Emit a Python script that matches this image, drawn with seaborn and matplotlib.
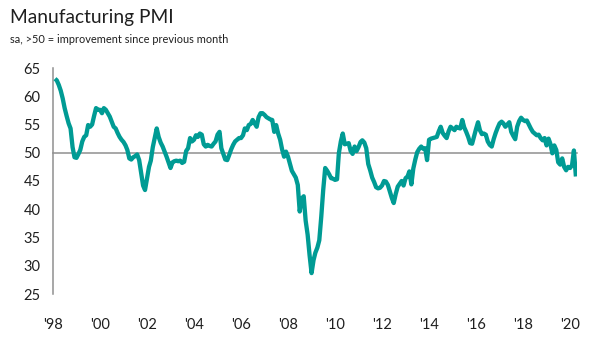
import matplotlib
matplotlib.use("Agg")
import matplotlib.pyplot as plt
import numpy as np
import pandas as pd
import seaborn as sns

# Monthly manufacturing PMI readings (seasonally adjusted), Feb 1998 onward
pmi_1998 = [63.1, 62.8, 62.0, 61.0, 59.6, 57.9, 56.5, 55.2, 54.3, 51.0, 49.2]
pmi_1999 = [49.1, 49.8, 50.5, 52.0, 52.8, 53.1, 54.9, 54.6, 55.0, 56.5, 57.9, 57.6]
pmi_2000 = [57.6, 57.0, 57.9, 57.6, 57.0, 56.4, 55.5, 54.6, 54.3, 53.5, 52.8, 52.3]
pmi_2001 = [51.9, 51.3, 50.5, 49.0, 48.8, 49.2, 49.4, 49.7, 48.7, 46.5, 44.2, 43.4]
pmi_2002 = [45.5, 47.5, 48.6, 51.0, 52.6, 54.3, 52.8, 51.8, 51.1, 50.2, 49.3, 48.3]
pmi_2003 = [47.3, 48.3, 48.5, 48.6, 48.5, 48.6, 48.2, 48.4, 50.3, 50.8, 52.6, 52.0]
pmi_2004 = [52.3, 53.1, 52.8, 53.4, 53.2, 51.5, 51.1, 51.4, 51.2, 51.1, 51.6, 52.0]
pmi_2005 = [53.2, 53.7, 50.8, 49.8, 48.8, 48.7, 49.6, 50.6, 51.4, 52.0, 52.3, 52.6]
pmi_2006 = [52.6, 53.1, 54.3, 54.0, 54.9, 55.1, 55.8, 55.2, 54.6, 56.3, 57.0, 57.0]
pmi_2007 = [56.7, 56.3, 56.1, 55.9, 55.8, 53.7, 54.9, 53.4, 52.3, 50.6, 49.3, 50.2]
pmi_2008 = [49.3, 48.0, 46.8, 46.2, 45.6, 44.3, 39.6, 41.9, 42.3, 38.0, 35.5, 31.9]
pmi_2009 = [28.7, 31.0, 32.3, 33.2, 34.5, 38.7, 43.4, 47.3, 46.8, 46.2, 45.5, 45.4]
pmi_2010 = [45.2, 45.3, 49.9, 52.0, 53.4, 51.5, 51.6, 51.7, 50.3, 49.8, 51.1, 50.3]
pmi_2011 = [51.0, 51.9, 52.2, 51.8, 50.8, 48.0, 46.9, 45.6, 44.8, 43.9, 43.7, 43.8]
pmi_2012 = [44.2, 45.0, 44.9, 44.3, 43.2, 42.0, 41.1, 42.7, 44.0, 44.5, 45.0, 44.2]
pmi_2013 = [45.5, 45.8, 46.7, 44.4, 47.2, 48.8, 50.1, 50.7, 51.1, 50.7, 50.8, 48.7]
pmi_2014 = [52.3, 52.5, 52.6, 52.7, 52.8, 53.8, 54.6, 53.5, 53.0, 52.6, 53.8, 54.6]
pmi_2015 = [54.3, 54.0, 54.6, 54.4, 54.3, 55.8, 54.5, 53.7, 52.8, 51.7, 51.6, 52.9]
pmi_2016 = [54.2, 55.4, 54.0, 53.3, 53.4, 53.2, 52.0, 51.4, 51.1, 52.4, 53.5, 54.4]
pmi_2017 = [55.2, 55.5, 55.2, 54.6, 55.0, 55.4, 53.7, 53.0, 52.4, 54.6, 55.6, 56.2]
pmi_2018 = [55.8, 55.6, 55.7, 55.0, 54.3, 53.7, 53.4, 53.1, 53.2, 52.6, 52.2, 52.6]
pmi_2019 = [51.3, 52.5, 51.6, 49.9, 51.3, 50.5, 48.3, 47.9, 49.0, 47.5, 46.9, 47.5]
pmi_2020 = [47.3, 47.8, 50.4, 45.8]

tick_years = list(range(1998, 2021, 2))
tick_labels = ["'98", "'00", "'02", "'04", "'06", "'08", "'10", "'12",
               "'14", "'16", "'18", "'20"]
y_ticks = [25, 30, 35, 40, 45, 50, 55, 60, 65]

values = (pmi_1998 + pmi_1999 + pmi_2000 + pmi_2001 + pmi_2002 + pmi_2003
          + pmi_2004 + pmi_2005 + pmi_2006 + pmi_2007 + pmi_2008 + pmi_2009
          + pmi_2010 + pmi_2011 + pmi_2012 + pmi_2013 + pmi_2014 + pmi_2015
          + pmi_2016 + pmi_2017 + pmi_2018 + pmi_2019 + pmi_2020)
df = pd.DataFrame({
    "date": pd.date_range("1998-02-01", periods=len(values), freq="MS"),
    "pmi": values,
})

sns.set_style("white")
plt.rcParams["font.family"] = ["Lato", "DejaVu Sans"]

LINE = "#009B94"
AXIS = "#8F8F8F"
TEXT = "#1F1F1F"

fig = plt.figure(figsize=(5.99, 3.46), dpi=100)
ax = fig.add_axes([53 / 599, 1 - 294 / 346, 524 / 599, 226 / 346])

sns.lineplot(data=df, x="date", y="pmi", ax=ax, color=LINE, linewidth=3.1,
             solid_capstyle="butt", zorder=3)

ax.set_ylim(25, 65)
ax.set_xlim(pd.Timestamp("1998-01-01"), pd.Timestamp("2020-04-18"))
ax.set_xlabel("")
ax.set_ylabel("")

# y axis: left spine with outward ticks
ax.set_yticks(y_ticks)
ax.tick_params(axis="y", direction="out", length=5, width=1.1, color=AXIS,
               labelsize=10.5, labelcolor=TEXT, pad=4)
ax.spines["left"].set_color(AXIS)
ax.spines["left"].set_linewidth(1.1)
for s in ("top", "right"):
    ax.spines[s].set_visible(False)

# x axis drawn as the 50 line, with short ticks hanging below it
ax.spines["bottom"].set_position(("data", 50))
ax.spines["bottom"].set_color(AXIS)
ax.spines["bottom"].set_linewidth(1.1)
ax.spines["bottom"].set_zorder(2)
ax.set_xticks([pd.Timestamp(f"{y}-01-01") for y in tick_years[1:-1]])
ax.tick_params(axis="x", direction="out", length=5, width=1.1, color=AXIS,
               labelbottom=False)

# year labels along the bottom of the plot area
sec = ax.secondary_xaxis(0)
sec.set_xticks([pd.Timestamp(f"{y}-01-01") for y in tick_years])
sec.set_xticklabels(tick_labels)
sec.tick_params(axis="x", length=0, pad=17, labelsize=10.5, labelcolor=TEXT)
sec.spines["bottom"].set_visible(False)

ax.grid(False)

fig.text(10 / 599, 1 - 22.7 / 346, "Manufacturing PMI", fontsize=13.8,
         color=TEXT, va="baseline", ha="left")
fig.text(10 / 599, 1 - 42.7 / 346, "sa, >50 = improvement since previous month",
         fontsize=7.9, color=TEXT, va="baseline", ha="left")

fig.savefig("out.png", dpi=100)
